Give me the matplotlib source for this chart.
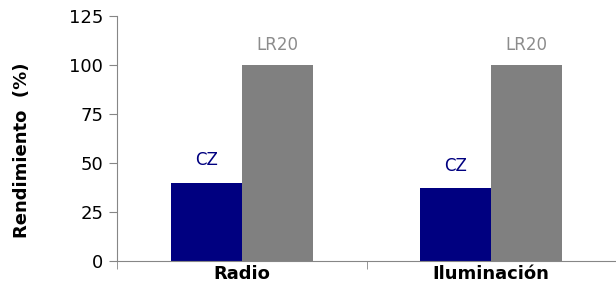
import matplotlib.pyplot as plt
import numpy as np

categories = ["Radio", "Iluminación"]
series_names = ["CZ", "LR20"]
cz_values = [40, 37]
lr20_values = [100, 100]

NAVY = "#000080"
GRAY = "#808080"
AXIS = "#868686"


def main() -> None:
    fig = plt.figure(figsize=(6.16, 2.89), dpi=100)
    ax = fig.add_axes([0.19, 0.097, 0.81, 0.848])

    x = np.arange(len(categories))
    width = 0.285
    ax.bar(x - width / 2, cz_values, width, color=NAVY)
    ax.bar(x + width / 2, lr20_values, width, color=GRAY)

    # series labels above each bar
    for i in x:
        ax.text(i - width / 2, cz_values[i] + 7, series_names[0], color=NAVY,
                ha="center", va="bottom", fontsize=12)
        ax.text(i + width / 2, lr20_values[i] + 5.5, series_names[1], color="#8c8c8c",
                ha="center", va="bottom", fontsize=12)

    ax.set_xlim(-0.5, len(categories) - 0.5)
    ax.set_ylim(0, 125)
    ax.set_yticks([0, 25, 50, 75, 100, 125])

    ax.set_xticks(x)
    ax.set_xticklabels(categories, fontsize=13, fontweight="bold")
    ax.tick_params(axis="x", length=0, pad=3)
    ax.set_xticks(np.arange(len(categories) + 1) - 0.5, minor=True)
    ax.tick_params(axis="x", which="minor", length=6, color=AXIS, direction="out")
    ax.tick_params(axis="y", length=6, color=AXIS, direction="out", labelsize=13, pad=4)

    ax.set_ylabel("Rendimiento  (%)", fontsize=13, fontweight="bold")
    # place the y label near the left edge of the figure, like the original
    ax.yaxis.set_label_coords((31 - 117) / (0.81 * 616), 0.45)

    for side in ["top", "right"]:
        ax.spines[side].set_visible(False)
    for side in ["left", "bottom"]:
        ax.spines[side].set_color(AXIS)

    plt.savefig("out.png", dpi=100)


if __name__ == "__main__":
    main()
